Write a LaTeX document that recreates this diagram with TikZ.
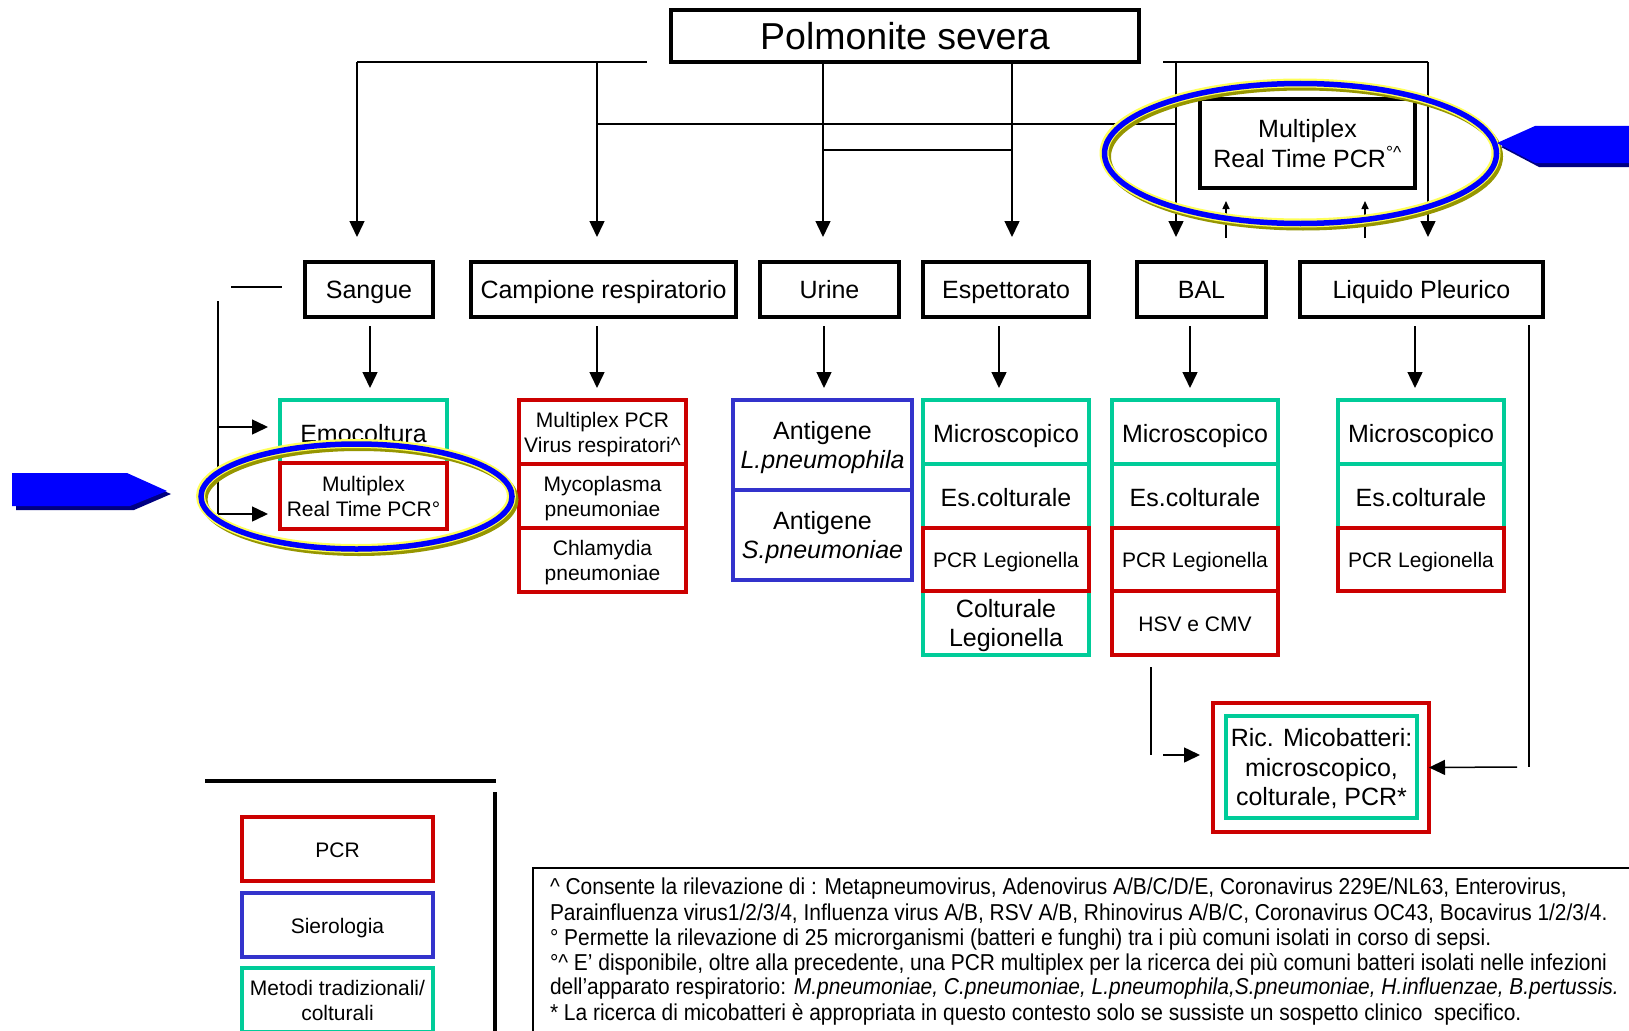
\documentclass[tikz,border=0pt]{standalone}
\usepackage{fontspec}
\setmainfont{Liberation Sans}
\newfontfamily\narrowfont[FakeStretch=0.91]{Liberation Sans}
\usetikzlibrary{arrows.meta}
\definecolor{cgreen}{RGB}{0,204,153}
\definecolor{cred}{RGB}{204,0,0}
\definecolor{cblue}{RGB}{51,51,204}
\definecolor{pblue}{RGB}{0,0,255}
\definecolor{pshadow}{RGB}{0,0,130}
\definecolor{ylw}{RGB}{255,255,90}
\definecolor{olv}{RGB}{150,150,0}
\begin{document}
\begin{tikzpicture}[x=1pt,y=-1pt,
  every node/.style={inner sep=0pt, outer sep=0pt, align=center},
  bbox/.style={draw=black, line width=4.5pt, fill=white, rectangle},
  gbox/.style={draw=cgreen, line width=4pt, rectangle},
  rbox/.style={draw=cred, line width=4pt, rectangle},
  ubox/.style={draw=cblue, line width=4pt, rectangle},
  conn/.style={line width=1.5pt},
  arr/.style={line width=1.5pt, -{Triangle[width=15pt,length=16pt]}},
  sarr/.style={line width=1.5pt, -{Triangle[width=7pt,length=8pt]}},
  fbig/.style={font=\fontsize{25}{29.5}\selectfont},
  fsmall/.style={font=\fontsize{21}{25}\selectfont},
  slb/.style={text height=21.5pt, text depth=0pt},
  sls/.style={text height=16.5pt, text depth=0pt},
  lvl/.style={bbox, minimum height=55pt, fbig, text height=17.5pt, text depth=0pt},
]
\useasboundingbox (0,0) rectangle (1629,1030);
\clip (0,0) rectangle (1629,1030);
\fill[white] (0,0) rectangle (1629,1030);

% ---------- title ----------
\node[bbox, minimum width=468pt, minimum height=52pt, font=\fontsize{37.5}{40}\selectfont, text height=27pt, text depth=0pt] (title) at (905,36) {Polmonite severa};

% ---------- sample boxes ----------
\node[lvl, minimum width=128pt] (sangue) at (369,289.5) {Sangue};
\node[lvl, minimum width=265pt] (camp) at (603.5,289.5) {Campione respiratorio};
\node[lvl, minimum width=139pt] (urine) at (829.5,289.5) {Urine};
\node[lvl, minimum width=166pt] (esp) at (1006,289.5) {Espettorato};
\node[lvl, minimum width=129pt] (bal) at (1201.5,289.5) {BAL};
\node[lvl, minimum width=243pt] (liq) at (1421.5,289.5) {Liquido Pleurico};
\node[bbox, minimum width=215pt, minimum height=89pt, fbig] (mrt) at (1307.5,143.5) {Multiplex\\Real Time PCR\textsuperscript{°\textasciicircum}};

% ---------- top connectors ----------
\coordinate (jL) at (357,62);
\coordinate (jR) at (647,62);
\coordinate (aS) at (357,237);
\coordinate (jC) at (597,62);
\coordinate (aC) at (597,237);
\coordinate (aU) at (823,237);
\coordinate (aE) at (1012,237);
\coordinate (jH1) at (597,124);
\coordinate (jH2) at (1176,124);
\coordinate (jM1) at (823,150);
\coordinate (jM2) at (1012,150);
\coordinate (jT1) at (1163,62);
\coordinate (jT2) at (1428,62);
\coordinate (aB) at (1176,237);
\coordinate (aL) at (1428,237);
\draw[conn] (jL) -- (jR);
\draw[arr] (jL) -- (aS);
\draw[arr] (jC) -- (aC);
\draw[arr] (title.south -| aU) -- (aU);
\draw[arr] (title.south -| aE) -- (aE);
\draw[conn] (jH1) -- (jH2);
\draw[conn] (jM1) -- (jM2);
\draw[conn] (jT1) -- (jT2);
\draw[arr] (aB |- jT1) -- (aB);
\draw[arr] (jT2) -- (aL);
\coordinate (u1) at (1226,238);
\coordinate (u1e) at (1226,201);
\coordinate (u2) at (1365,238);
\coordinate (u2e) at (1365,201);
\draw[sarr] (u1) -- (u1e);
\draw[sarr] (u2) -- (u2e);

% ---------- sub boxes: green first ----------
\node[gbox, minimum width=167pt, minimum height=63pt, fbig, slb] (emo) at (363.5,431.5) {Emocoltura};

\node[gbox, minimum width=166pt, minimum height=64pt, fbig, slb] (em1) at (1006,432) {Microscopico};
\node[gbox, minimum width=166pt, minimum height=64pt, fbig, slb] (em2) at (1006,496) {Es.colturale};
\node[gbox, minimum width=166pt, minimum height=64pt, fbig] (em4) at (1006,623) {Colturale\\\smash{Legionella}};

\node[gbox, minimum width=166pt, minimum height=64pt, fbig, slb] (bm1) at (1195,432) {Microscopico};
\node[gbox, minimum width=166pt, minimum height=64pt, fbig, slb] (bm2) at (1195,496) {Es.colturale};

\node[gbox, minimum width=166pt, minimum height=64pt, fbig, slb] (lm1) at (1421,432) {Microscopico};
\node[gbox, minimum width=166pt, minimum height=64pt, fbig, slb] (lm2) at (1421,496) {Es.colturale};

% ---------- blue ----------
\node[ubox, minimum width=179pt, minimum height=90pt, fbig] (ag1) at (822.5,445) {Antigene\\\smash{\textit{L.pneumophila}}};
\node[ubox, minimum width=179pt, minimum height=90pt, fbig] (ag2) at (822.5,535) {Antigene\\\smash{\textit{S.pneumoniae}}};

% ---------- red ----------
\node[rbox, minimum width=167pt, minimum height=66pt, fsmall] (mpcr) at (363.5,496) {Multiplex\\Real Time PCR°};

\node[rbox, minimum width=167pt, minimum height=64pt, fsmall] (cr1) at (602.5,432) {Multiplex PCR\\\smash{Virus respiratori\textasciicircum}};
\node[rbox, minimum width=167pt, minimum height=64pt, fsmall] (cr2) at (602.5,496) {Mycoplasma\\\smash{pneumoniae}};
\node[rbox, minimum width=167pt, minimum height=64pt, fsmall] (cr3) at (602.5,560) {Chlamydia\\\smash{pneumoniae}};

\node[rbox, minimum width=166pt, minimum height=63pt, fsmall, sls] (em3) at (1006,559.5) {PCR Legionella};
\node[rbox, minimum width=166pt, minimum height=63pt, fsmall, sls] (bm3) at (1195,559.5) {PCR Legionella};
\node[rbox, minimum width=166pt, minimum height=64pt, fsmall, sls] (bm4) at (1195,623) {HSV e CMV};
\node[rbox, minimum width=166pt, minimum height=63pt, fsmall, sls] (lm3) at (1421,559.5) {PCR Legionella};

% ---------- level arrows ----------
\foreach \x/\n in {370/dS, 597/dC, 824/dU, 999/dE, 1190/dB, 1415/dL} {
  \draw[arr] (\x,326) coordinate (\n1) -- (\x,388) coordinate (\n2);
}

% ---------- left of Sangue ----------
\coordinate (sl1) at (231,287);
\coordinate (sl2) at (282,287);
\coordinate (sv1) at (218,301);
\coordinate (sv2) at (218,514);
\coordinate (sv3) at (218,427);
\coordinate (e1) at (268,427);
\coordinate (e2) at (268,514);
\draw[conn] (sl1) -- (sl2);
\draw[conn] (sv1) -- (sv2);
\draw[arr] (sv3) -- (e1);
\draw[arr] (sv2) -- (e2);

% ---------- mycobacteria ----------
\node[rbox, minimum width=216pt, minimum height=129pt] (ric) at (1321,767.5) {};
\node[gbox, minimum width=191pt, minimum height=102pt, fbig] (ricin) at (1321.5,767) {Ric. Micobatteri:\\microscopico,\\\smash{colturale, PCR*}};
\coordinate (rb1) at (1151,667);
\coordinate (rb2) at (1151,755);
\coordinate (rb3) at (1163,755);
\coordinate (rb4) at (1200,755);
\coordinate (rr1) at (1529,325);
\coordinate (rr2) at (1529,767);
\coordinate (rr3) at (1517,767);
\draw[conn] (rb1) -- (rb2);
\draw[arr] (rb3) -- (rb4);
\draw[conn] (rr1) -- (rr2);
\draw[arr] (rr3) -- (ric.east);

% ---------- highlight ellipses ----------
\draw[olv, line width=8pt] (359,499.5) ellipse [x radius=155.5pt, y radius=52.5pt];
\draw[ylw, line width=9pt] (356,496) ellipse [x radius=155.5pt, y radius=52.5pt];
\draw[pblue, line width=5.5pt] (356.5,496.5) ellipse [x radius=155.5pt, y radius=52.5pt];

\draw[olv, line width=8pt] (1303,156.5) ellipse [x radius=196pt, y radius=70pt];
\draw[ylw, line width=9pt] (1300,153) ellipse [x radius=196pt, y radius=70pt];
\draw[pblue, line width=5.5pt] (1300.5,153.5) ellipse [x radius=196pt, y radius=70pt];

% ---------- blue pointers ----------
\fill[pshadow] (16,477) -- (131,477) -- (171,494) -- (134,510) -- (16,510) -- cycle;
\fill[pblue] (12,473) -- (127,473) -- (167,491) -- (130,506) -- (12,506) -- cycle;
\fill[pshadow] (1640,130) -- (1539,130) -- (1501,147) -- (1539,167) -- (1640,167) -- cycle;
\fill[pblue] (1640,126) -- (1535,126) -- (1497,143) -- (1535,163) -- (1640,163) -- cycle;

% ---------- legend ----------
\coordinate (lg1) at (205,781);
\coordinate (lg2) at (496,781);
\coordinate (lg3) at (495,792);
\coordinate (lg4) at (495,1040);
\draw[line width=4.5pt] (lg1) -- (lg2);
\draw[line width=4.5pt] (lg3) -- (lg4);
\node[rbox, minimum width=191pt, minimum height=64pt, fsmall, sls] (lpcr) at (337.5,849) {PCR};
\node[ubox, minimum width=191pt, minimum height=64pt, fsmall, sls] (lser) at (337.5,925) {Sierologia};
\node[gbox, minimum width=191pt, minimum height=64pt, fsmall] (lmet) at (337.5,1000) {Metodi tradizionali/\\colturali};

% ---------- footnotes ----------
\coordinate (fb1) at (1640,868);
\coordinate (fb2) at (533,868);
\coordinate (fb3) at (533,1040);
\draw[line width=1.5pt] (fb1) -- (fb2) -- (fb3);
\begin{scope}[every node/.append style={anchor=west, font=\narrowfont\fontsize{23}{25}\selectfont}]
\node (fn1) at (550,889) {\textasciicircum{} Consente la rilevazione di : Metapneumovirus, Adenovirus A/B/C/D/E, Coronavirus 229E/NL63, Enterovirus,};
\node (fn2) at (550,914) {Parainfluenza virus1/2/3/4, Influenza virus A/B, RSV A/B, Rhinovirus A/B/C, Coronavirus OC43, Bocavirus 1/2/3/4.};
\node (fn3) at (550,939) {° Permette la rilevazione di 25 microrganismi (batteri e funghi) tra i più comuni isolati in corso di sepsi.};
\node (fn4) at (550,964) {°\textasciicircum{} E’ disponibile, oltre alla precedente, una PCR multiplex per la ricerca dei più comuni batteri isolati nelle infezioni};
\node (fn5) at (550,989) {dell’apparato respiratorio: \textit{M.pneumoniae, C.pneumoniae, L.pneumophila,S.pneumoniae, H.influenzae, B.pertussis.}};
\node (fn6) at (550,1014) {* La ricerca di micobatteri è appropriata in questo contesto solo se sussiste un sospetto clinico\ \ specifico.};
\end{scope}
\end{tikzpicture}
\end{document}
